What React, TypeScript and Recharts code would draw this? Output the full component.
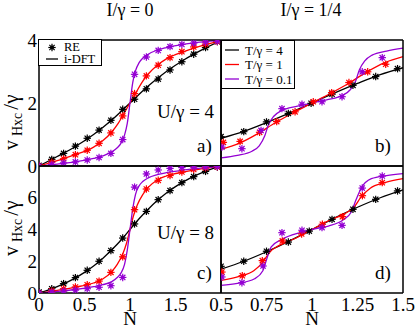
import React from 'react';
import { ComposedChart, Line, Scatter, XAxis, YAxis, Legend } from 'recharts';

const W = 415;
const H = 329;
const SERIF = "'Liberation Serif', 'Times New Roman', serif";
const BLACK = '#000000';
const RED = '#ff0000';
const VIOLET = '#9400d3';

// ---------- tick values ----------
const leftXTicks = [0, 0.5, 1, 1.5];
const leftXMarks = [0, 0.5, 1, 1.5, 2];
const rightXTicks = [0.5, 0.75, 1, 1.25, 1.5];
const rightXMarks = [0.5, 0.625, 0.75, 0.875, 1, 1.125, 1.25, 1.375, 1.5];
const topYTicks = [0, 2, 4];
const topYMarks = [0, 1, 2, 3, 4];
const bottomYTicks = [0, 2, 4, 6];
const bottomYMarks = [0, 2, 4, 6, 8];
const topRightYMarks = [0, 0.5, 1, 1.5, 2, 2.5, 3, 3.5, 4];
const bottomRightYMarks = [0, 1, 2, 3, 4, 5, 6, 7, 8];

const legendLeft = ['RE', 'i-DFT'];
const legendTemps = ['T/γ = 4', 'T/γ = 1', 'T/γ = 0.1'];

// ---------- panel a : I/γ = 0, U/γ = 4 ----------
const reN = [0, 0.14, 0.27, 0.4, 0.53, 0.66, 0.79, 0.92, 1.05, 1.18, 1.31, 1.44, 1.57, 1.7, 1.83, 1.96];
const aBlackRE = [0.02, 0.21, 0.4, 0.63, 0.88, 1.14, 1.45, 1.8, 2.12, 2.45, 2.76, 3.05, 3.31, 3.55, 3.76, 3.95];
const aRedRE = [0, 0.12, 0.23, 0.36, 0.5, 0.72, 1.05, 1.59, 2.3, 2.86, 3.2, 3.44, 3.63, 3.78, 3.87, 3.95];
const aVioletRE = [0, 0.05, 0.1, 0.13, 0.19, 0.27, 0.4, 0.84, 2.91, 3.46, 3.67, 3.79, 3.86, 3.9, 3.93, 3.96];

const aBlackN = [0, 0.2, 0.4, 0.6, 0.8, 1.0, 1.2, 1.4, 1.6, 1.8, 2.0];
const aBlackV = [0, 0.3, 0.62, 1.0, 1.46, 2.0, 2.54, 3.0, 3.38, 3.7, 3.98];
const aRedN = [0, 0.2, 0.4, 0.6, 0.7, 0.8, 0.87, 0.93, 1.0, 1.07, 1.13, 1.2, 1.3, 1.4, 1.6, 1.8, 2.0];
const aRedV = [0, 0.17, 0.36, 0.6, 0.8, 1.08, 1.35, 1.65, 2.0, 2.35, 2.65, 2.92, 3.2, 3.4, 3.64, 3.83, 3.97];
const aVioletN = [0, 0.2, 0.4, 0.6, 0.7, 0.8, 0.86, 0.9, 0.94, 0.97, 1.0, 1.03, 1.06, 1.1, 1.14, 1.2, 1.3, 1.4, 1.6, 1.8, 2.0];
const aVioletV = [0, 0.06, 0.13, 0.24, 0.32, 0.45, 0.58, 0.72, 0.98, 1.35, 2.0, 2.65, 3.02, 3.28, 3.42, 3.55, 3.68, 3.76, 3.87, 3.94, 3.99];

// ---------- panel b : I/γ = 1/4, U/γ = 4 ----------
const bBlackReN = [0.5, 0.625, 0.75, 0.87, 0.995, 1.11, 1.225, 1.35, 1.47];
const bBlackRE = [0.93, 1.09, 1.4, 1.67, 1.99, 2.28, 2.56, 2.84, 3.09];
const bRedReN = [0.513, 0.605, 0.712, 0.806, 0.907, 1.007, 1.108, 1.203, 1.306, 1.405];
const bRedRE = [0.75, 0.78, 1.07, 1.41, 1.72, 2.04, 2.33, 2.65, 2.99, 3.23];
const bVioletReN = [0.505, 0.615, 0.72, 0.835, 0.945, 1.055, 1.165, 1.276, 1.386];
const bVioletRE = [0.6, 0.55, 1.13, 1.82, 1.96, 2.04, 2.2, 2.99, 3.44];

const bBlackN = [0.5, 0.625, 0.75, 0.875, 1.0, 1.125, 1.25, 1.375, 1.5];
const bBlackV = [0.88, 1.1, 1.38, 1.68, 2.0, 2.32, 2.62, 2.9, 3.12];
const bRedN = [0.5, 0.6, 0.7, 0.8, 0.9, 1.0, 1.1, 1.2, 1.3, 1.4, 1.5];
const bRedV = [0.53, 0.72, 1.02, 1.38, 1.7, 2.0, 2.3, 2.62, 2.98, 3.28, 3.47];
const bVioletN = [0.5, 0.59, 0.67, 0.71, 0.74, 0.76, 0.79, 0.83, 0.92, 1.0, 1.08, 1.17, 1.21, 1.24, 1.26, 1.29, 1.33, 1.41, 1.5];
const bVioletV = [0.26, 0.34, 0.47, 0.64, 0.95, 1.3, 1.58, 1.75, 1.9, 2.0, 2.1, 2.25, 2.42, 2.7, 3.05, 3.34, 3.52, 3.65, 3.74];

// ---------- panel c : I/γ = 0, U/γ = 8 ----------
const cBlackRE = [0.06, 0.27, 0.59, 0.97, 1.43, 2.0, 2.67, 3.46, 4.35, 5.14, 5.88, 6.45, 6.95, 7.33, 7.66, 7.94];
const cRedRE = [0, 0.13, 0.27, 0.38, 0.52, 0.75, 1.3, 2.28, 5.25, 6.55, 7.1, 7.4, 7.62, 7.78, 7.88, 7.95];
const cVioletRE = [0, 0.05, 0.12, 0.18, 0.27, 0.36, 0.46, 0.98, 6.67, 7.5, 7.75, 7.85, 7.9, 7.93, 7.95, 7.97];

const cBlackN = [0, 0.1, 0.2, 0.3, 0.4, 0.5, 0.6, 0.7, 0.8, 0.9, 1.0, 1.1, 1.2, 1.3, 1.4, 1.5, 1.6, 1.7, 1.8, 1.9, 2.0];
const cBlackV = [0, 0.18, 0.4, 0.65, 0.95, 1.3, 1.7, 2.18, 2.72, 3.32, 4.0, 4.68, 5.28, 5.82, 6.3, 6.7, 7.05, 7.35, 7.6, 7.82, 8.0];
const cRedN = [0, 0.2, 0.4, 0.6, 0.7, 0.8, 0.86, 0.92, 0.96, 1.0, 1.04, 1.08, 1.14, 1.2, 1.3, 1.4, 1.6, 1.8, 2.0];
const cRedV = [0, 0.17, 0.37, 0.63, 0.88, 1.35, 1.8, 2.45, 3.1, 4.0, 4.9, 5.55, 6.2, 6.65, 7.12, 7.37, 7.63, 7.83, 8.0];
const cVioletN = [0, 0.2, 0.4, 0.6, 0.7, 0.8, 0.86, 0.9, 0.94, 0.97, 1.0, 1.03, 1.06, 1.1, 1.14, 1.2, 1.3, 1.4, 1.6, 1.8, 2.0];
const cVioletV = [0, 0.1, 0.22, 0.4, 0.52, 0.72, 0.98, 1.25, 1.8, 2.7, 4.0, 5.3, 6.2, 6.75, 7.02, 7.25, 7.45, 7.58, 7.75, 7.88, 7.98];

// ---------- panel d : I/γ = 1/4, U/γ = 8 ----------
const dBlackReN = [0.5, 0.625, 0.75, 0.87, 0.985, 1.11, 1.225, 1.35, 1.47];
const dBlackRE = [1.68, 2.0, 2.63, 3.21, 3.9, 4.64, 5.27, 5.9, 6.43];
const dRedReN = [0.505, 0.617, 0.727, 0.837, 0.943, 1.057, 1.167, 1.277, 1.386];
const dRedRE = [1.32, 1.09, 2.04, 3.28, 3.72, 4.33, 4.81, 6.13, 6.95];
const dVioletReN = [0.505, 0.615, 0.731, 0.835, 0.945, 1.055, 1.165, 1.276, 1.386];
const dVioletRE = [1.01, 0.65, 1.7, 3.8, 3.95, 4.12, 4.26, 6.61, 7.37];

const dBlackN = [0.5, 0.625, 0.75, 0.875, 1.0, 1.125, 1.25, 1.375, 1.5];
const dBlackV = [1.5, 2.0, 2.6, 3.27, 4.0, 4.73, 5.4, 6.0, 6.5];
const dRedN = [0.5, 0.6, 0.68, 0.73, 0.77, 0.82, 0.9, 1.0, 1.1, 1.18, 1.23, 1.27, 1.32, 1.4, 1.5];
const dRedV = [0.8, 1.05, 1.4, 1.95, 2.6, 3.0, 3.4, 4.0, 4.6, 5.0, 5.4, 6.05, 6.6, 6.95, 7.2];
const dVioletN = [0.5, 0.59, 0.685, 0.73, 0.75, 0.776, 0.83, 0.94, 1.0, 1.09, 1.17, 1.216, 1.243, 1.27, 1.326, 1.41, 1.5];
const dVioletV = [0.48, 0.6, 0.9, 1.4, 2.1, 2.9, 3.35, 3.82, 4.0, 4.22, 4.6, 5.1, 5.9, 6.6, 7.2, 7.4, 7.52];

type Pt = { n: number; v: number };
const zip = (ns: number[], vs: number[]): Pt[] => ns.map((n, i) => ({ n, v: vs[i] }));

type Curve = { color: string; line: Pt[]; re: Pt[] };

const panelA: Curve[] = [
  { color: BLACK, line: zip(aBlackN, aBlackV), re: zip(reN, aBlackRE) },
  { color: RED, line: zip(aRedN, aRedV), re: zip(reN, aRedRE) },
  { color: VIOLET, line: zip(aVioletN, aVioletV), re: zip(reN, aVioletRE) },
];
const panelB: Curve[] = [
  { color: BLACK, line: zip(bBlackN, bBlackV), re: zip(bBlackReN, bBlackRE) },
  { color: RED, line: zip(bRedN, bRedV), re: zip(bRedReN, bRedRE) },
  { color: VIOLET, line: zip(bVioletN, bVioletV), re: zip(bVioletReN, bVioletRE) },
];
const panelC: Curve[] = [
  { color: BLACK, line: zip(cBlackN, cBlackV), re: zip(reN, cBlackRE) },
  { color: RED, line: zip(cRedN, cRedV), re: zip(reN, cRedRE) },
  { color: VIOLET, line: zip(cVioletN, cVioletV), re: zip(reN, cVioletRE) },
];
const panelD: Curve[] = [
  { color: BLACK, line: zip(dBlackN, dBlackV), re: zip(dBlackReN, dBlackRE) },
  { color: RED, line: zip(dRedN, dRedV), re: zip(dRedReN, dRedRE) },
  { color: VIOLET, line: zip(dVioletN, dVioletV), re: zip(dVioletReN, dVioletRE) },
];

// asterisk marker used for the RE points
const Asterisk = ({ cx, cy, color }: { cx: number; cy: number; color: string }) => {
  const r = 3.7;
  const d = r * 0.72;
  return (
    <g stroke={color} strokeWidth={1.2}>
      <line x1={cx - r} y1={cy} x2={cx + r} y2={cy} />
      <line x1={cx} y1={cy - r} x2={cx} y2={cy + r} />
      <line x1={cx - d} y1={cy - d} x2={cx + d} y2={cy + d} />
      <line x1={cx - d} y1={cy + d} x2={cx + d} y2={cy - d} />
      <circle cx={cx} cy={cy} r={1.9} fill={color} stroke="none" />
    </g>
  );
};

const frame = { stroke: BLACK, strokeWidth: 1.5 };
const tickMark = { stroke: BLACK, strokeWidth: 1 };
const txt = { fontFamily: SERIF, fill: BLACK };

// tick labels drawn as serif text
const XTick = (p: any) => (
  <text x={p.x} y={p.y} dy={14} textAnchor="middle" fontSize={19} {...txt}>{p.payload.value}</text>
);
const YTick = (p: any) => (
  <text x={p.x} y={p.y} dy={6.5} textAnchor="end" fontSize={19} {...txt}>{p.payload.value}</text>
);

type PanelProps = {
  plot: { left: number; top: number; right: number; bottom: number };
  xDomain: [number, number];
  yDomain: [number, number];
  xMarks: number[];
  yMarks: number[];
  xTicks?: number[];
  yTicks?: number[];
  curves: Curve[];
  children?: React.ReactNode;
};

function Panel({ plot, xDomain, yDomain, xMarks, yMarks, xTicks, yTicks, curves, children }: PanelProps) {
  const margin = {
    top: plot.top,
    right: W - plot.right,
    bottom: H - plot.bottom - (xTicks ? 36 : 0),
    left: plot.left - (yTicks ? 39 : 0),
  };
  return (
    <div style={{ position: 'absolute', left: 0, top: 0 }}>
      <ComposedChart width={W} height={H} margin={margin}>
        {xTicks && (
          <XAxis
            xAxisId="lab"
            type="number"
            dataKey="n"
            domain={xDomain}
            allowDataOverflow
            ticks={xTicks}
            interval={0}
            height={36}
            axisLine={false}
            tickLine={false}
            tickSize={0}
            tickMargin={4}
            tick={XTick}
          />
        )}
        <XAxis xAxisId="bot" type="number" dataKey="n" domain={xDomain} allowDataOverflow ticks={xMarks} interval={0}
          orientation="bottom" mirror tick={false} tickSize={5} tickLine={tickMark} axisLine={frame} />
        <XAxis xAxisId="top" type="number" dataKey="n" domain={xDomain} allowDataOverflow ticks={xMarks} interval={0}
          orientation="top" mirror tick={false} tickSize={5} tickLine={tickMark} axisLine={frame} />
        {yTicks && (
          <YAxis
            yAxisId="lab"
            type="number"
            dataKey="v"
            domain={yDomain}
            allowDataOverflow
            ticks={yTicks}
            interval={0}
            width={39}
            axisLine={false}
            tickLine={false}
            tickSize={0}
            tickMargin={2}
            tick={YTick}
          />
        )}
        <YAxis yAxisId="left" type="number" dataKey="v" domain={yDomain} allowDataOverflow ticks={yMarks} interval={0}
          orientation="left" mirror tick={false} tickSize={5} tickLine={tickMark} axisLine={frame} />
        <YAxis yAxisId="right" type="number" dataKey="v" domain={yDomain} allowDataOverflow ticks={yMarks} interval={0}
          orientation="right" mirror tick={false} tickSize={5} tickLine={tickMark} axisLine={frame} />
        {curves.map((c, i) => (
          <Line key={'l' + i} xAxisId="bot" yAxisId="left" data={c.line} dataKey="v" type="monotone"
            stroke={c.color} strokeWidth={1.3} dot={false} activeDot={false} isAnimationActive={false} />
        ))}
        {curves.map((c, i) => (
          <Scatter key={'s' + i} xAxisId="bot" yAxisId="left" data={c.re} dataKey="v" isAnimationActive={false}
            shape={(p: any) => <Asterisk cx={p.cx} cy={p.cy} color={c.color} />} />
        ))}
        {xTicks && (
          <text x={(plot.left + plot.right) / 2} y={325} textAnchor="middle" fontSize={19} {...txt}>N</text>
        )}
        {children}
      </ComposedChart>
    </div>
  );
}

const YLabel = ({ x, y }: { x: number; y: number }) => (
  <text transform={`rotate(-90 ${x} ${y})`} x={x} y={y} fontFamily={SERIF} fontSize={20} fill={BLACK}>
    <tspan>v</tspan>
    <tspan dx={4} dy={4} fontSize={14}>Hxc</tspan>
    <tspan dx={3} dy={-4} fontSize={21}>/γ</tspan>
  </text>
);

const LeftLegend = () => (
  <svg width={64} height={27} style={{ display: 'block' }}>
    <rect x={0.5} y={0.5} width={63} height={26} fill="#fff" stroke={BLACK} strokeWidth={1} />
    <Asterisk cx={14} cy={8.5} color={BLACK} />
    <text x={26} y={12} fontSize={12.5} {...txt}>{legendLeft[0]}</text>
    <line x1={8} y1={20} x2={20} y2={20} stroke={BLACK} strokeWidth={1.3} />
    <text x={26} y={24} fontSize={12.5} {...txt}>{legendLeft[1]}</text>
  </svg>
);

const tempColors = [BLACK, RED, VIOLET];
const RightLegend = () => (
  <svg width={74} height={49} style={{ display: 'block' }}>
    <rect x={0.5} y={0.5} width={73} height={48} fill="#fff" stroke={BLACK} strokeWidth={1} />
    {legendTemps.map((t, i) => (
      <g key={t}>
        <line x1={4} y1={10 + 14.5 * i} x2={18} y2={10 + 14.5 * i} stroke={tempColors[i]} strokeWidth={1.3} />
        <text x={24} y={14.5 + 14.5 * i} fontSize={13} {...txt}>{t}</text>
      </g>
    ))}
  </svg>
);

export default function App() {
  return (
    <div style={{ position: 'absolute', left: 0, top: 0, width: W, height: H, background: '#fff', fontFamily: SERIF }}>
      <Panel plot={{ left: 39, top: 40, right: 221, bottom: 166 }} xDomain={[0, 2]} yDomain={[0, 4]}
        xMarks={leftXMarks} yMarks={topYMarks} yTicks={topYTicks} curves={panelA}>
        <Legend layout="vertical" align="center" verticalAlign="middle"
          wrapperStyle={{ left: 38, top: 39, width: 64, height: 27 }} content={() => <LeftLegend />} />
        <text x={130} y={16} textAnchor="middle" fontSize={18} {...txt}>I/γ = 0</text>
        <text x={157} y={118} fontSize={19} {...txt}>U/γ = 4</text>
        <text x={197} y={152} fontSize={19} {...txt}>a)</text>
        <YLabel x={18} y={150} />
      </Panel>
      <Panel plot={{ left: 221, top: 40, right: 403, bottom: 166 }} xDomain={[0.5, 1.5]} yDomain={[0, 4]}
        xMarks={rightXMarks} yMarks={topRightYMarks} curves={panelB}>
        <Legend layout="vertical" align="center" verticalAlign="middle"
          wrapperStyle={{ left: 221, top: 40, width: 74, height: 49 }} content={() => <RightLegend />} />
        <text x={311} y={16} textAnchor="middle" fontSize={18} {...txt}>I/γ = 1/4</text>
        <text x={375} y={152} fontSize={19} {...txt}>b)</text>
      </Panel>
      <Panel plot={{ left: 39, top: 166, right: 221, bottom: 293 }} xDomain={[0, 2]} yDomain={[0, 8]}
        xMarks={leftXMarks} yMarks={bottomYMarks} xTicks={leftXTicks} yTicks={bottomYTicks} curves={panelC}>
        <text x={157} y={239} fontSize={19} {...txt}>U/γ = 8</text>
        <text x={197} y={279} fontSize={19} {...txt}>c)</text>
        <YLabel x={18} y={256} />
      </Panel>
      <Panel plot={{ left: 221, top: 166, right: 403, bottom: 293 }} xDomain={[0.5, 1.5]} yDomain={[0, 8]}
        xMarks={rightXMarks} yMarks={bottomRightYMarks} xTicks={rightXTicks} curves={panelD}>
        <text x={375} y={279} fontSize={19} {...txt}>d)</text>
      </Panel>
    </div>
  );
}
